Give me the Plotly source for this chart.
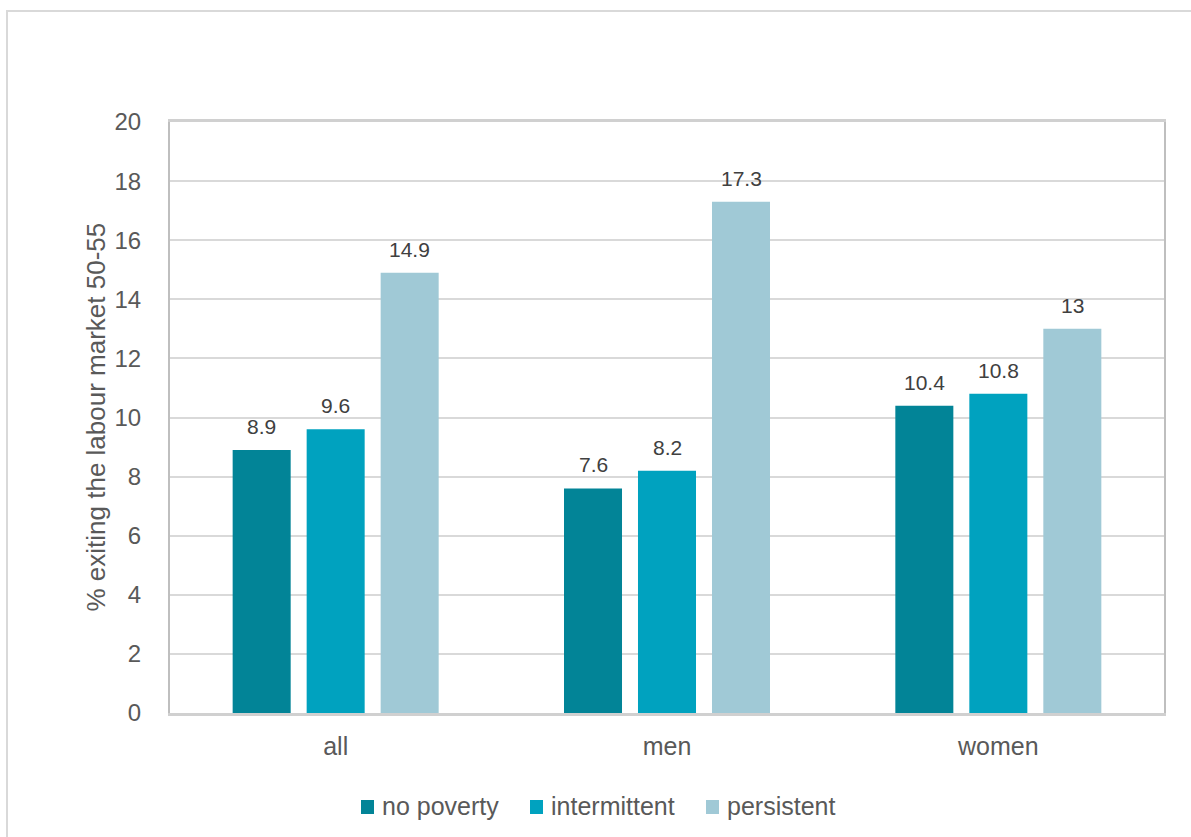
import plotly.graph_objects as go

# Share of people exiting the labour market between 50 and 55, by poverty history
categories = ["all", "men", "women"]
series_names = ["no poverty", "intermittent", "persistent"]
no_poverty = [8.9, 7.6, 10.4]
intermittent = [9.6, 8.2, 10.8]
persistent = [14.9, 17.3, 13]
y_ticks = [0, 2, 4, 6, 8, 10, 12, 14, 16, 18, 20]

colors = ["#028497", "#00A2BF", "#A0C9D6"]
values = [no_poverty, intermittent, persistent]

W, H = 1191, 837
ML, MR, MT, MB = 170, 27, 122, 124
PW, PH = W - ML - MR, H - MT - MB
FONT = "Liberation Sans, Arial, sans-serif"
GREY = "#595959"


def px_x(px):
    return (px - ML) / PW


def px_y(py):
    return (H - MB - py) / PH


fig = go.Figure()
for i, (name, vals, col) in enumerate(zip(series_names, values, colors)):
    fig.add_trace(go.Bar(
        x=categories, y=vals, name=name,
        marker=dict(color=col, line=dict(width=0)),
        offsetgroup=str(i),
        showlegend=False,
    ))

fig.update_layout(
    width=W, height=H,
    margin=dict(l=ML, r=MR, t=MT, b=MB),
    paper_bgcolor="white", plot_bgcolor="white",
    barmode="group", bargap=0.33, bargroupgap=0.216,
    font=dict(family=FONT, color=GREY),
)

fig.update_yaxes(
    range=[0, 20], tickvals=y_ticks,
    showgrid=True, gridcolor="#D9D9D9", gridwidth=1.5,
    showline=True, linecolor="#BFBFBF", linewidth=2, mirror=True,
    zeroline=False,
    tickfont=dict(family=FONT, size=24, color=GREY),
    ticklabelstandoff=22,
)
fig.update_xaxes(
    showline=True, linecolor="#D0D0D0", linewidth=2.5, mirror=True,
    showgrid=False,
    tickfont=dict(family=FONT, size=25, color=GREY),
    ticklabelstandoff=9,
)

# Y-axis title
fig.add_annotation(
    x=px_x(95), y=0.5, xref="paper", yref="paper",
    text="% exiting the labour market 50-55", textangle=-90,
    showarrow=False, xanchor="center", yanchor="middle",
    font=dict(family=FONT, size=26, color=GREY),
)

# Value labels above each bar
n = len(series_names)
slot = (1 - 0.33) / n
for i, vals in enumerate(values):
    for j, v in enumerate(vals):
        xc = j - (1 - 0.33) / 2 + slot * (i + 0.5)
        fig.add_annotation(
            x=xc, y=v, xref="x", yref="y",
            text=f"{v:g}", showarrow=False,
            yanchor="bottom", yshift=10,
            font=dict(family=FONT, size=21, color="#404040"),
        )

# Legend drawn as swatches with labels
legend_swatch_left = [361, 530, 706]
for name, col, left in zip(series_names, colors, legend_swatch_left):
    fig.add_shape(type="rect", xref="paper", yref="paper",
                  x0=px_x(left), x1=px_x(left + 13),
                  y0=px_y(814), y1=px_y(800),
                  fillcolor=col, line=dict(width=0))
    fig.add_annotation(
        x=px_x(left + 19), y=px_y(806), xref="paper", yref="paper",
        text=name, showarrow=False, xanchor="left", yanchor="middle",
        font=dict(family=FONT, size=25, color=GREY),
    )

# Chart frame
fig.add_shape(type="rect", xref="paper", yref="paper",
              x0=px_x(7), x1=px_x(W + 10),
              y0=px_y(H + 10), y1=px_y(11),
              line=dict(color="#D9D9D9", width=2), layer="below")

fig.write_html("out.html")
